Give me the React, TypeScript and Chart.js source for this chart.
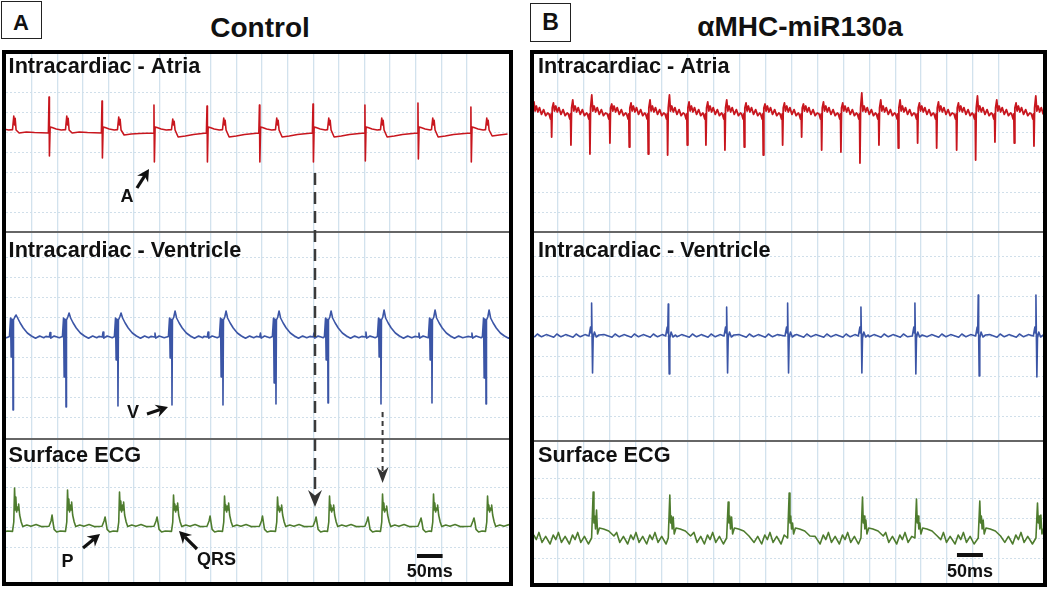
import React, { useEffect, useRef } from "react";
import { Chart, registerables } from "chart.js";

Chart.register(...registerables);

// ================= Panel A: Control  (time in ms, amplitude in grid units) =================
const ctrlAtrialMs = [-19, 84, 187.5, 289, 392.6, 495, 599.6, 701, 804.6, 908];
const ctrlAtriaTop = [1.4, 1.75, 1.55, 1.35, 1.3, 1.35, 1.4, 1.35, 1.45, 1.25];
const ctrlAtriaBottom = [-1.3, -1.2, -1.3, -1.5, -1.5, -1.5, -1.5, -1.45, -1.35, -1.5];
const ctrlVentBlip = [0.2, 0.22, 0.25, 0.2, 0.25, 0.2, 0.2, 0.25, 0.2, 0.2];
const ctrlEcgP = [0.55, 0.6, 0.5, 0.5, 0.55, 0.55, 0.5, 0.5, 0.45, 0.45];

const ctrlVentMs = [13.7, 117.2, 218.7, 324.2, 423.8, 527.3, 628.9, 732.4, 832, 937.5];
const ctrlVentBottom = [-3.65, -3.5, -3.45, -3.4, -3.4, -3.35, -3.3, -3.35, -3.3, -3.35];
const ctrlVentNotch = [-1.0, -2.0, -1.15, -1.05, -2.0, -2.3, -1.15, -1.0, -1.15, -2.05];
const ctrlVentPeak = [1.1, 1.2, 1.2, 1.3, 1.3, 1.3, 1.3, 1.35, 1.35, 1.35];
const ctrlAtriaFarField = [0.8, 0.8, 0.75, 0.65, 0.7, 0.7, 0.7, 0.7, 0.7, 0.7];
const ctrlAtriaDip = [-0.05, -0.05, -0.15, -0.25, -0.25, -0.25, -0.25, -0.25, -0.25, -0.2];
const ctrlEcgR = [1.95, 1.85, 1.75, 1.6, 1.55, 1.5, 1.55, 1.65, 1.65, 1.55];
const ctrlEcgR2 = [1.15, 1.25, 1.25, 1.2, 1.2, 1.1, 1.1, 1.05, 1.1, 1.1];

// ================= Panel B: αMHC-miR130a =================
const mirAtrialMs = [0.5, 38.0, 75.2, 111.8, 150.3, 187.5, 224.1, 261.5, 299.3, 335.3, 371.9, 409.1, 445.7, 483.1, 519.7, 558.3, 595.4, 632.1, 668.7, 705.9, 743.2, 779.9, 818.4, 855.0, 892.2, 929.4, 967.4, 1004];
const mirAtriaBottom = [-1.4, -1.25, -1.65, -2.1, -1.55, -1.75, -2.1, -2.15, -1.65, -1.65, -1.9, -1.75, -2.15, -1.65, -1.25, -1.9, -2.0, -2.55, -1.65, -1.8, -1.55, -1.8, -1.9, -2.4, -1.5, -1.55, -1.7, -1.6];
const mirAtriaPeak = [0.5, 0.45, 0.6, 0.85, 0.4, 0.45, 0.6, 0.85, 0.5, 0.5, 0.6, 0.45, 0.4, 0.45, 0.4, 0.5, 0.45, 0.95, 0.6, 0.6, 0.45, 0.5, 0.45, 0.8, 0.6, 0.45, 0.8, 0.5];

const mirVentMs = [115.0, 262.7, 375.2, 492.7, 634.0, 738.0, 860.0, 971.2];
const mirVentUp = [1.65, 1.6, 1.45, 1.65, 1.45, 1.65, 2.05, 2.05];
const mirVentDown = [-1.85, -1.9, -1.85, -1.85, -1.85, -1.9, -2.0, -2.05];
const mirEcgR = [2.3, 2.15, 1.8, 2.25, 2.05, 1.95, 1.85, 1.75];
const mirEcgR2 = [1.4, 1.05, 1.05, 0.75, 0.9, 0.75, 0.9, 1.15];

// ================= Texts =================
const titleA = "Control";
const titleB = "\u03b1MHC-miR130a";
const stripLabels = ["Intracardiac - Atria", "Intracardiac - Ventricle", "Surface ECG"];
const scaleBarLabel = "50ms";
const scaleBarMs = 50;
const gridStepMs = 50;

const FONT = '"Liberation Sans", Arial, Helvetica, sans-serif';
const COL_A = "#c8161e";
const COL_V = "#3b55a6";
const COL_E = "#4e7c2e";
const GRID_V = "#d2e2ed";
const GRID_H = "#d0dfea";

type Pt = { x: number; y: number };
const pt = (x: number, y: number): Pt => ({ x, y });
const sortPts = (a: Pt[]) => a.sort((p, q) => p.x - q.x);
const near = (x: number, centers: number[], before: number, after: number) =>
  centers.some((c) => x > c - before && x < c + after);

// ---------- trace assembly (from the beat tables above) ----------
function ctrlAtriaTrace(): Pt[] {
  const out: Pt[] = [];
  ctrlAtrialMs.forEach((t, i) => {
    out.push(pt(t - 1.2, -0.05), pt(t, ctrlAtriaTop[i]), pt(t + 0.8, ctrlAtriaBottom[i]), pt(t + 2.2, 0.25),
      pt(t + 6, 0.22), pt(t + 14, 0.15), pt(t + 24, 0.1));
  });
  ctrlVentMs.forEach((v, i) => {
    const b = ctrlAtriaFarField[i], d = ctrlAtriaDip[i];
    out.push(pt(v - 1, 0.12), pt(v + 1.5, b), pt(v + 3, 0.35), pt(v + 4.2, b - 0.12), pt(v + 6, 0.1),
      pt(v + 12, d), pt(v + 26, d + 0.05), pt(v + 42, d * 0.5));
  });
  return sortPts(out);
}

function ctrlVentTrace(): Pt[] {
  const out: Pt[] = [];
  ctrlVentMs.forEach((v, i) => {
    out.push(pt(v - 7, 0.02), pt(v - 4.8, 0.95), pt(v - 3.6, ctrlVentNotch[i]), pt(v - 2.4, 0.9), pt(v - 0.6, 0.85),
      pt(v, ctrlVentBottom[i]), pt(v + 0.9, 0.85), pt(v + 3.5, 1.0), pt(v + 6, ctrlVentPeak[i]), pt(v + 9, 0.95),
      pt(v + 14, 0.7), pt(v + 20, 0.45), pt(v + 28, 0.2), pt(v + 36, 0.05), pt(v + 44, -0.06), pt(v + 52, 0.05), pt(v + 60, -0.04));
  });
  ctrlAtrialMs.forEach((t, i) => {
    out.push(pt(t - 6, 0.03), pt(t + 0.5, 0.0), pt(t + 2, ctrlVentBlip[i]), pt(t + 3.5, -0.06), pt(t + 10, 0.05), pt(t + 20, -0.04));
  });
  return sortPts(out);
}

function ctrlEcgTrace(): Pt[] {
  const out: Pt[] = [];
  ctrlVentMs.forEach((v, i) => {
    const q = v + 3, r = ctrlEcgR[i], r2 = ctrlEcgR2[i];
    out.push(pt(q - 4, -0.22), pt(q - 1.5, 0.25), pt(q, r), pt(q + 1.5, 0.85), pt(q + 2.5, r - 0.45), pt(q + 4, 0.75),
      pt(q + 6, r2 - 0.15), pt(q + 7, 0.85), pt(q + 8, r2), pt(q + 10, 0.6), pt(q + 13, 0.25), pt(q + 16, 0.02),
      pt(q + 24, 0.1), pt(q + 32, 0.04), pt(q + 42, 0.12), pt(q + 52, 0.02));
  });
  ctrlAtrialMs.forEach((t, i) => {
    const p = t + 6;
    out.push(pt(p - 6, 0.04), pt(p - 2, 0.3), pt(p, ctrlEcgP[i]), pt(p + 2, 0.2), pt(p + 4, -0.12), pt(p + 9, -0.25), pt(p + 16, -0.2));
  });
  return sortPts(out);
}

function mirAtriaTrace(): Pt[] {
  const out: Pt[] = [];
  mirAtrialMs.forEach((t, i) => {
    out.push(pt(t - 5, -0.1), pt(t - 2.2, -0.35), pt(t - 0.8, -0.1), pt(t, mirAtriaBottom[i]), pt(t + 1.2, 0.2),
      pt(t + 3.5, mirAtriaPeak[i]), pt(t + 5.5, 0.05), pt(t + 8, 0.3), pt(t + 11, 0.0), pt(t + 14, 0.22),
      pt(t + 18, -0.12), pt(t + 22, 0.12), pt(t + 26, -0.18), pt(t + 30, -0.05));
  });
  return sortPts(out);
}

function mirVentTrace(): Pt[] {
  const out: Pt[] = [];
  mirVentMs.forEach((v, i) => {
    out.push(pt(v - 5, 0.0), pt(v - 2, 0.45), pt(v - 1, 0.15), pt(v, mirVentUp[i]), pt(v + 0.8, 0.1),
      pt(v + 1.8, mirVentDown[i]), pt(v + 3, -0.1), pt(v + 5.5, 0.2), pt(v + 9, -0.05), pt(v + 14, 0.05));
  });
  mirAtrialMs.forEach((t) => {
    [pt(t + 4, -0.06), pt(t + 10, 0.1), pt(t + 18, -0.04), pt(t + 27, 0.07)].forEach((p) => {
      if (!near(p.x, mirVentMs, 7, 16)) out.push(p);
    });
  });
  return sortPts(out);
}

function mirEcgTrace(): Pt[] {
  const out: Pt[] = [];
  const qs = mirVentMs.map((v) => v + 3);
  qs.forEach((q, i) => {
    out.push(pt(q - 3, 0.0), pt(q, mirEcgR[i]), pt(q + 1.5, 0.75), pt(q + 3, 1.1), pt(q + 4.5, 0.45),
      pt(q + 6.5, mirEcgR2[i]), pt(q + 8.5, 0.2), pt(q + 12, 0.5), pt(q + 20, 0.45), pt(q + 30, 0.35), pt(q + 40, 0.1));
  });
  mirAtrialMs.forEach((t) => {
    [pt(t - 3, -0.3), pt(t + 3, 0.15), pt(t + 8, -0.08), pt(t + 13, 0.28), pt(t + 19, -0.22), pt(t + 26, 0.08)].forEach((p) => {
      if (!near(p.x, qs, 6, 44)) out.push(p);
    });
  });
  return sortPts(out);
}

// ---------- panel specs ----------
const panelA: any = {
  xMin: 0, xMax: 982.4,
  yA: [-5.0, 3.9], yV: [-5.1, 5.25], yE: [-2.75, 4.4],
  traces: [ctrlAtriaTrace(), ctrlVentTrace(), ctrlEcgTrace()],
  lwA: 1.6,
  labelX: 2.6, labelBase: [19, 203, 408],
  scaleBar: { ms: 802.7, y: -1.45, textY: -2.5 },
  dashes: [
    { ms: 603.5, fromAxis: "yA", from: -2.05, toAxis: "yE", to: 1.0, dash: [12, 7], lw: 2.5, head: 17, half: 7 },
    { ms: 735.5, fromAxis: "yV", from: -3.75, toAxis: "yE", to: 2.2, dash: [5, 4], lw: 2, head: 16, half: 6 },
  ],
  callouts: [
    { text: "A", axis: "yA", label: [236.3, -3.5], tail: [255.8, -2.8], tip: [279.3, -1.85] },
    { text: "V", axis: "yV", label: [248, -4.05], tail: [275.4, -3.85], tip: [316.4, -3.5] },
    { text: "P", axis: "yE", label: [120.1, -2.0], tail: [150.4, -1.05], tip: [183.6, -0.35] },
    { text: "QRS", axis: "yE", label: [411, -1.9], tail: [373, -1.1], tip: [337.9, -0.2] },
  ],
};

const panelB: any = {
  xMin: 4, xMax: 984.8,
  yA: [-6.0, 2.9], yV: [-5.25, 5.2], yE: [-2.25, 4.85],
  traces: [mirAtriaTrace(), mirVentTrace(), mirEcgTrace()],
  lwA: 1.8,
  labelX: 4, labelBase: [19, 203, 408],
  scaleBar: { ms: 819, y: -0.85, textY: -1.95 },
  dashes: [],
  callouts: [],
};

function drawArrow(ctx: CanvasRenderingContext2D, x0: number, y0: number, x1: number, y1: number, head: number, half: number, lw: number, dash: number[]) {
  const a = Math.atan2(y1 - y0, x1 - x0), c = Math.cos(a), s = Math.sin(a);
  const bx = x1 - c * head, by = y1 - s * head;
  const nx = x1 - c * head * 0.68, ny = y1 - s * head * 0.68;
  ctx.lineWidth = lw;
  ctx.setLineDash(dash);
  ctx.beginPath();
  ctx.moveTo(x0, y0);
  ctx.lineTo(nx, ny);
  ctx.stroke();
  ctx.setLineDash([]);
  ctx.beginPath();
  ctx.moveTo(x1, y1);
  ctx.lineTo(bx - s * half, by + c * half);
  ctx.lineTo(nx, ny);
  ctx.lineTo(bx + s * half, by - c * half);
  ctx.closePath();
  ctx.fill();
}

function overlayPlugin(spec: any) {
  return {
    id: "ecgOverlay",
    beforeDatasetsDraw(chart: any) {
      const { ctx, chartArea } = chart;
      ctx.save();
      ctx.strokeStyle = "#666666";
      ctx.lineWidth = 2;
      ["yV", "yE"].forEach((id) => {
        const y = chart.scales[id].top;
        ctx.beginPath();
        ctx.moveTo(chartArea.left, y);
        ctx.lineTo(chartArea.right, y);
        ctx.stroke();
      });
      ctx.restore();
    },
    afterDraw(chart: any) {
      const { ctx } = chart;
      const xs = chart.scales.x;
      ctx.save();
      ctx.fillStyle = "#111";
      ctx.strokeStyle = "#111";
      ctx.textBaseline = "alphabetic";
      // strip labels
      ctx.font = `bold 21.7px ${FONT}`;
      ctx.textAlign = "left";
      stripLabels.forEach((t, i) => ctx.fillText(t, spec.labelX, spec.labelBase[i]));
      // scale bar
      const sb = spec.scaleBar;
      const bx0 = xs.getPixelForValue(sb.ms), bx1 = xs.getPixelForValue(sb.ms + scaleBarMs);
      const by = chart.scales.yE.getPixelForValue(sb.y);
      ctx.fillRect(bx0, by - 2, bx1 - bx0, 4);
      ctx.font = `bold 18px ${FONT}`;
      ctx.textAlign = "center";
      ctx.fillText(scaleBarLabel, (bx0 + bx1) / 2, chart.scales.yE.getPixelForValue(sb.textY));
      // dashed guide arrows
      spec.dashes.forEach((d: any) => {
        const x = xs.getPixelForValue(d.ms);
        const y0 = chart.scales[d.fromAxis].getPixelForValue(d.from);
        const y1 = chart.scales[d.toAxis].getPixelForValue(d.to);
        ctx.fillStyle = "#333";
        ctx.strokeStyle = "#3a3a3a";
        drawArrow(ctx, x, y0, x, y1, d.head, d.half, d.lw, d.dash);
      });
      // callouts
      ctx.fillStyle = "#111";
      ctx.strokeStyle = "#111";
      spec.callouts.forEach((c: any) => {
        const ys = chart.scales[c.axis];
        drawArrow(ctx, xs.getPixelForValue(c.tail[0]), ys.getPixelForValue(c.tail[1]),
          xs.getPixelForValue(c.tip[0]), ys.getPixelForValue(c.tip[1]), 12, 6.5, 3.2, []);
        ctx.font = `bold 18px ${FONT}`;
        ctx.textAlign = "center";
        ctx.fillText(c.text, xs.getPixelForValue(c.label[0]), ys.getPixelForValue(c.label[1]));
      });
      ctx.restore();
    },
  };
}

const isWhole = (v: number, step: number) => Math.abs(v / step - Math.round(v / step)) < 1e-6;

function yScale(range: number[]) {
  return {
    type: "linear",
    position: "right",
    stack: "strips",
    stackWeight: range[1] - range[0],
    min: range[0],
    max: range[1],
    ticks: { display: false, stepSize: 1 },
    grid: {
      drawTicks: false,
      lineWidth: 1,
      color: (c: any) => (c.tick && isWhole(c.tick.value, 1) ? GRID_H : "rgba(0,0,0,0)"),
    },
    border: { display: false, dash: [2, 2] },
    afterFit: (s: any) => { s.width = 0; },
  };
}

function buildChart(canvas: HTMLCanvasElement, spec: any) {
  const [ta, tv, te] = spec.traces;
  return new Chart(canvas, {
    type: "line",
    data: {
      datasets: [
        { data: ta, yAxisID: "yA", borderColor: COL_A, borderWidth: spec.lwA },
        { data: tv, yAxisID: "yV", borderColor: COL_V, borderWidth: 1.6 },
        { data: te, yAxisID: "yE", borderColor: COL_E, borderWidth: 1.6 },
      ],
    } as any,
    options: {
      responsive: false,
      animation: false,
      parsing: false,
      events: [],
      layout: { padding: 0 },
      elements: { point: { radius: 0 }, line: { tension: 0, borderJoinStyle: "round" } },
      plugins: { legend: { display: false }, tooltip: { enabled: false } },
      scales: {
        x: {
          type: "linear",
          min: spec.xMin,
          max: spec.xMax,
          ticks: { display: false, stepSize: gridStepMs },
          grid: {
            drawTicks: false,
            lineWidth: 1.3,
            color: (c: any) =>
              c.tick && isWhole(c.tick.value, gridStepMs) && c.tick.value > spec.xMin && c.tick.value < spec.xMax
                ? GRID_V
                : "rgba(0,0,0,0)",
          },
          border: { display: false },
          afterFit: (s: any) => { s.height = 0; },
        },
        yA: yScale(spec.yA),
        yV: yScale(spec.yV),
        yE: yScale(spec.yE),
      },
    } as any,
    plugins: [overlayPlugin(spec) as any],
  });
}

function Txt(props: { x: number; base: number; size: number; center?: boolean; children: any }) {
  const { x, base, size, center, children } = props;
  const style: any = {
    position: "absolute",
    top: base - size * 0.8465,
    fontSize: size,
    lineHeight: `${size}px`,
    fontWeight: 700,
    whiteSpace: "nowrap",
  };
  if (center) {
    style.left = x - 200;
    style.width = 400;
    style.textAlign = "center";
  } else style.left = x;
  return <div style={style}>{children}</div>;
}

export default function App() {
  const refA = useRef<HTMLCanvasElement>(null);
  const refB = useRef<HTMLCanvasElement>(null);
  useEffect(() => {
    const a = buildChart(refA.current as HTMLCanvasElement, panelA);
    const b = buildChart(refB.current as HTMLCanvasElement, panelB);
    return () => {
      a.destroy();
      b.destroy();
    };
  }, []);

  const frame = (left: number, top: number, w: number, h: number): any => ({
    position: "absolute", left, top, width: w, height: h, border: "4px solid #000", boxSizing: "border-box", background: "#fff",
  });
  const letterBox = (left: number, top: number, w: number, h: number): any => ({
    position: "absolute", left, top, width: w, height: h, border: "1.5px solid #222", boxSizing: "border-box",
  });

  return (
    <div style={{ position: "fixed", left: 0, top: 0, width: 1050, height: 591, background: "#fff", fontFamily: FONT, color: "#111", overflow: "hidden" }}>
      <div style={letterBox(1, 1, 41, 38)} />
      <Txt x={21} base={31} size={22} center>A</Txt>
      <Txt x={260} base={38} size={28} center>{titleA}</Txt>
      <div style={frame(2, 50, 511, 536)}>
        <canvas ref={refA} width={503} height={528} style={{ position: "absolute", left: 0, top: 0, width: 503, height: 528 }} />
      </div>

      <div style={letterBox(530, 3, 41, 39)} />
      <Txt x={550.5} base={30} size={23} center>B</Txt>
      <Txt x={800} base={37} size={28} center>{titleB}</Txt>
      <div style={frame(530, 50, 517, 537)}>
        <canvas ref={refB} width={509} height={529} style={{ position: "absolute", left: 0, top: 0, width: 509, height: 529 }} />
      </div>
    </div>
  );
}
